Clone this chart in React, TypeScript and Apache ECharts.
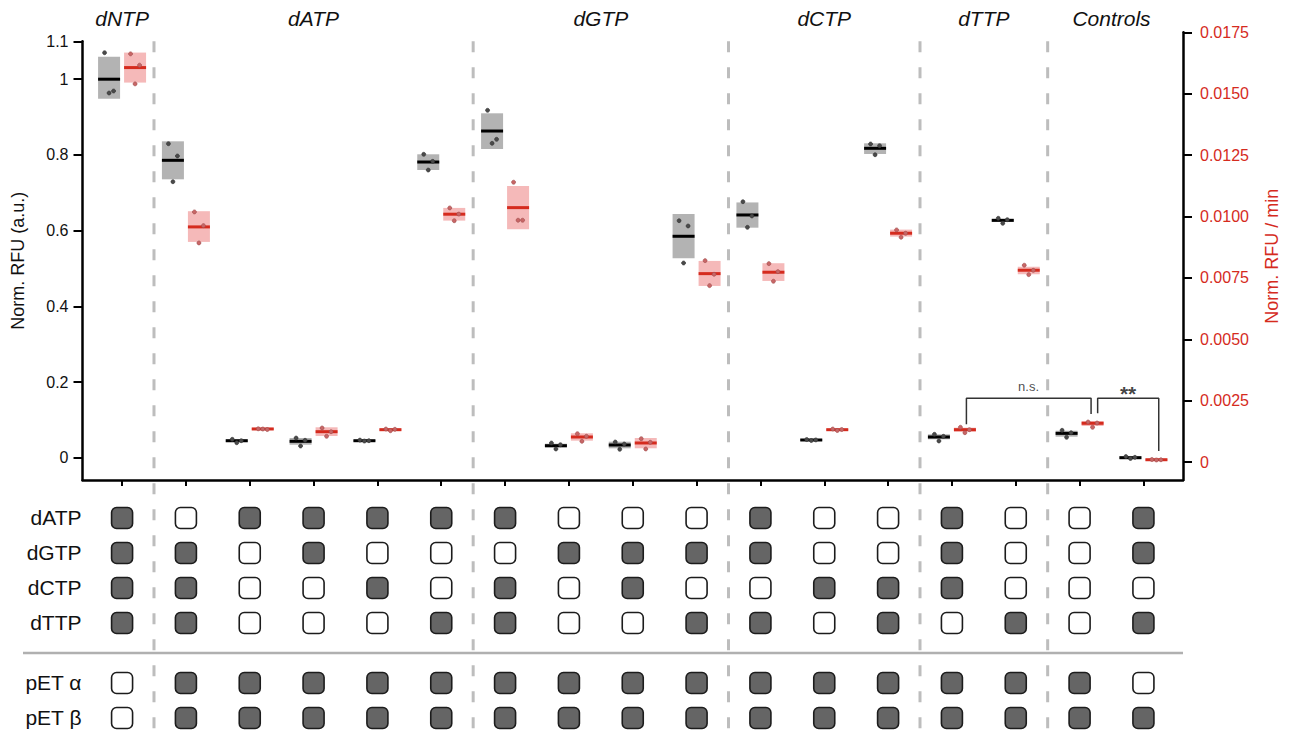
import React, { useEffect, useRef } from "react";
import * as echarts from "echarts";

// ---------- data ----------
// condition columns, numbered 1..17 from left to right
const columns = [1, 2, 3, 4, 5, 6, 7, 8, 9, 10, 11, 12, 13, 14, 15, 16, 17];

const groupNames = ["dNTP", "dATP", "dGTP", "dCTP", "dTTP", "Controls"];
const groupCenters = [1, 4, 8.5, 12, 14.5, 16.5];
const groupBoundaries = [1.5, 6.5, 10.5, 13.5, 15.5];

// Normalised RFU (left axis): box low / high / centre line, and three replicates
const blackLo = [0.9485, 0.7355, 0.041, 0.0343, 0.043, 0.7601, 0.8156, 0.027, 0.0248, 0.5268, 0.6077, 0.045, 0.8024, 0.0486, 0.623, 0.0555, -0.003];
const blackHi = [1.0594, 0.8359, 0.048, 0.052, 0.047, 0.8016, 0.9099, 0.037, 0.0423, 0.6438, 0.6744, 0.0485, 0.8306, 0.0618, 0.631, 0.0713, 0.004];
const blackMid = [1.0, 0.7857, 0.0449, 0.0433, 0.0449, 0.7812, 0.8631, 0.0317, 0.0336, 0.585, 0.6413, 0.0468, 0.8174, 0.0547, 0.6271, 0.0643, 0.0];
const blackRep1 = [1.07, 0.8296, 0.0486, 0.052, 0.0465, 0.8016, 0.9178, 0.0388, 0.0415, 0.6262, 0.6764, 0.048, 0.8288, 0.0618, 0.6325, 0.0724, 0.003];
const blackRep2 = [0.9635, 0.7292, 0.0396, 0.0309, 0.044, 0.76, 0.8306, 0.023, 0.0222, 0.5144, 0.6087, 0.0455, 0.8005, 0.0441, 0.6193, 0.0539, -0.002];
const blackRep3 = [0.9688, 0.7971, 0.045, 0.046, 0.045, 0.783, 0.8412, 0.0343, 0.0362, 0.6122, 0.6386, 0.047, 0.8243, 0.0565, 0.6289, 0.066, 0.001];

// Normalised RFU / min (right axis)
const redLo = [0.015453, 0.008967, 0.00131, 0.001067, 0.00128, 0.009834, 0.009484, 0.000876, 0.000566, 0.007175, 0.007378, 0.00129, 0.009183, 0.001242, 0.007651, 0.001474, 0.00006];
const redHi = [0.016675, 0.010217, 0.0014, 0.001421, 0.00137, 0.010351, 0.011247, 0.001177, 0.000985, 0.008193, 0.0081, 0.00136, 0.009468, 0.001405, 0.007961, 0.001678, 0.00014];
const redMid = [0.016064, 0.009578, 0.001352, 0.001242, 0.001323, 0.010095, 0.010363, 0.001026, 0.000782, 0.007676, 0.007733, 0.001323, 0.009321, 0.001323, 0.007814, 0.001584, 0.0001];
const redRep1 = [0.016622, 0.010188, 0.00136, 0.001393, 0.00135, 0.01035, 0.011398, 0.00116, 0.000957, 0.008205, 0.008083, 0.00135, 0.009455, 0.001421, 0.008018, 0.001637, 0.00011];
const redRep2 = [0.0154, 0.008926, 0.00135, 0.001055, 0.00128, 0.00983, 0.00985, 0.000851, 0.000538, 0.007187, 0.007366, 0.00129, 0.009158, 0.001201, 0.007635, 0.001421, 0.00009];
const redRep3 = [0.016162, 0.00963, 0.00133, 0.001242, 0.00134, 0.0101, 0.00985, 0.001055, 0.00081, 0.00765, 0.007757, 0.00133, 0.00932, 0.001323, 0.00781, 0.001596, 0.0001];

const leftTicks = [0, 0.2, 0.4, 0.6, 0.8, 1, 1.1];
const rightTicks = [0, 0.0025, 0.005, 0.0075, 0.01, 0.0125, 0.015, 0.0175];

const rowNames = ["dATP", "dGTP", "dCTP", "dTTP", "pET α", "pET β"];
const rowDATP = [1, 0, 1, 1, 1, 1, 1, 0, 0, 0, 1, 0, 0, 1, 0, 0, 1];
const rowDGTP = [1, 1, 0, 1, 0, 0, 0, 1, 1, 1, 1, 0, 0, 1, 0, 0, 1];
const rowDCTP = [1, 1, 0, 0, 1, 0, 1, 0, 1, 0, 0, 1, 1, 1, 0, 0, 0];
const rowDTTP = [1, 1, 0, 0, 0, 1, 1, 0, 0, 1, 1, 0, 1, 0, 1, 0, 1];
const rowPETa = [0, 1, 1, 1, 1, 1, 1, 1, 1, 1, 1, 1, 1, 1, 1, 1, 0];
const rowPETb = [0, 1, 1, 1, 1, 1, 1, 1, 1, 1, 1, 1, 1, 1, 1, 1, 1];
const rowStates = [rowDATP, rowDGTP, rowDCTP, rowDTTP, rowPETa, rowPETb];

// significance brackets (x in column units, y on right axis)
const bracketNS = [[14.227, 0.001543], [14.227, 0.002602], [16.18, 0.002602], [16.18, 0.001963]];
const bracketStar = [[16.283, 0.00199], [16.283, 0.002602], [17.24, 0.002602], [17.24, 0.000456]];
const labelNS = [15.2, 0.00308];
const labelStar = [16.76, 0.0028];

// ---------- layout ----------
const X_MIN = 0.38;
const X_MAX = 17.62;
const Y0_MIN = -0.0589;
const Y0_MAX = 1.1;
const Y1_MIN = -0.000725;
const Y1_MAX = 0.0175;
const ROW_POS = [0, 1, 2, 3, 4.714, 5.714];
const FONT = "'Liberation Sans', Arial, Helvetica, sans-serif";
const RED = "#d52b1e";
const GRID_LEFT = 82.5;
const GRID_RIGHT = 107;
const PLOT_BOTTOM = 480;
const LEFT_TOP = 41.35;

function boxRenderer(offset: number, fill: string, lineColor: string, dotFill: string, dotStroke: string) {
  return (params: any, api: any) => {
    const col = api.value(0);
    const lo = api.value(1);
    const hi = api.value(2);
    const mid = api.value(3);
    const pMid = api.coord([col, mid]);
    const cx = pMid[0] + offset;
    const yLo = api.coord([col, lo])[1];
    const yHi = api.coord([col, hi])[1];
    const reps = [api.value(4), api.value(5), api.value(6)];
    const dx = [-4.5, 0, 4.5];
    const children: any[] = [
      {
        type: "rect",
        shape: { x: cx - 11, y: yHi, width: 22, height: Math.max(yLo - yHi, 1.5) },
        style: { fill },
      },
      {
        type: "line",
        shape: { x1: cx - 11, y1: pMid[1], x2: cx + 11, y2: pMid[1] },
        style: { stroke: lineColor, lineWidth: 3 },
      },
    ];
    reps.forEach((v, i) => {
      const p = api.coord([col, v]);
      children.push({
        type: "circle",
        shape: { cx: cx + dx[i], cy: p[1], r: 2 },
        style: { fill: dotFill, stroke: dotStroke, lineWidth: 0.6 },
      });
    });
    return { type: "group", children };
  };
}

export default function App() {
  const ref = useRef<HTMLDivElement>(null);

  useEffect(() => {
    if (!ref.current) return;
    const chart = echarts.init(ref.current, null, { renderer: "svg" });

    const blackData = columns.map((c, i) => [c, blackLo[i], blackHi[i], blackMid[i], blackRep1[i], blackRep2[i], blackRep3[i]]);
    const redData = columns.map((c, i) => [c, redLo[i], redHi[i], redMid[i], redRep1[i], redRep2[i], redRep3[i]]);
    const symbolData: any[] = [];
    rowStates.forEach((row, r) => {
      row.forEach((s, c) => symbolData.push([columns[c], ROW_POS[r], s]));
    });

    const option: any = {
      animation: false,
      textStyle: { fontFamily: FONT },
      grid: [
        { left: GRID_LEFT, right: GRID_RIGHT, top: 32.3, height: PLOT_BOTTOM - 32.3 },
        { left: GRID_LEFT, right: GRID_RIGHT, top: 505, height: 230 },
        { left: GRID_LEFT, right: GRID_RIGHT, top: LEFT_TOP, height: PLOT_BOTTOM - LEFT_TOP },
      ],
      xAxis: [
        {
          gridIndex: 0,
          type: "value",
          position: "bottom",
          min: X_MIN,
          max: X_MAX,
          axisLine: { show: true, onZero: false, lineStyle: { color: "#000", width: 2.5 } },
          axisTick: { show: true, customValues: columns, length: 6, lineStyle: { color: "#000", width: 2 } },
          axisLabel: { show: false },
          splitLine: { show: false },
        },
        {
          gridIndex: 0,
          type: "value",
          position: "top",
          min: X_MIN,
          max: X_MAX,
          axisLine: { show: false, onZero: false },
          axisTick: { show: false },
          splitLine: { show: false },
          axisLabel: {
            show: true,
            customValues: groupCenters,
            formatter: (v: number) => groupNames[groupCenters.findIndex((g) => Math.abs(g - v) < 1e-6)] || "",
            fontStyle: "italic",
            fontSize: 21,
            color: "#111",
            margin: 3,
            fontFamily: FONT,
          },
        },
        { gridIndex: 1, type: "value", min: X_MIN, max: X_MAX, show: false, axisLine: { onZero: false } },
        { gridIndex: 2, type: "value", min: X_MIN, max: X_MAX, show: false, axisLine: { onZero: false } },
      ],
      yAxis: [
        {
          gridIndex: 2,
          type: "value",
          position: "left",
          min: Y0_MIN,
          max: Y0_MAX,
          axisLine: { show: true, onZero: false, lineStyle: { color: "#000", width: 2.5 } },
          axisTick: { show: true, customValues: leftTicks, length: 9, lineStyle: { color: "#000", width: 2 } },
          axisLabel: {
            show: true,
            customValues: leftTicks,
            formatter: (v: number) => String(parseFloat(v.toFixed(2))),
            fontSize: 16,
            color: "#111",
            margin: 14,
            fontFamily: FONT,
          },
          splitLine: { show: false },
          name: "Norm. RFU (a.u.)",
          nameLocation: "middle",
          nameRotate: 90,
          nameGap: 56,
          nameTextStyle: { fontSize: 18, color: "#111", fontFamily: FONT },
        },
        {
          gridIndex: 0,
          type: "value",
          position: "right",
          min: Y1_MIN,
          max: Y1_MAX,
          axisLine: { show: true, onZero: false, lineStyle: { color: "#000", width: 2.5 } },
          axisTick: { show: true, customValues: rightTicks, length: 9, lineStyle: { color: "#000", width: 2 } },
          axisLabel: {
            show: true,
            customValues: rightTicks,
            formatter: (v: number) => (Math.abs(v) < 1e-9 ? "0" : v.toFixed(4)),
            fontSize: 16,
            color: RED,
            margin: 17,
            fontFamily: FONT,
          },
          splitLine: { show: false },
          name: "Norm. RFU / min",
          nameLocation: "middle",
          nameRotate: 90,
          nameGap: 80,
          nameTextStyle: { fontSize: 18, color: RED, fontFamily: FONT },
        },
        {
          gridIndex: 1,
          type: "value",
          inverse: true,
          min: -0.371,
          max: 6.2,
          axisLine: { show: false, onZero: false },
          axisTick: { show: false },
          splitLine: { show: false },
          axisLabel: {
            show: true,
            customValues: ROW_POS,
            formatter: (v: number) => rowNames[ROW_POS.findIndex((p) => Math.abs(p - v) < 1e-6)] || "",
            fontSize: 21,
            color: "#111",
            margin: 1,
            fontFamily: FONT,
          },
        },
      ],
      series: [
        {
          type: "custom",
          name: "separators",
          xAxisIndex: 3,
          yAxisIndex: 0,
          silent: true,
          z: 1,
          data: groupBoundaries.map((b) => [b, 1.1]),
          renderItem: (params: any, api: any) => {
            const p = api.coord([api.value(0), api.value(1)]);
            return {
              type: "line",
              shape: { x1: p[0], y1: p[1], x2: p[0], y2: api.getHeight() },
              style: { stroke: "#bdbdbd", lineWidth: 3, lineDash: [11, 15] },
            };
          },
        },
        {
          type: "custom",
          name: "Norm. RFU",
          xAxisIndex: 3,
          yAxisIndex: 0,
          z: 3,
          data: blackData,
          encode: { x: 0, y: [1, 2, 3] },
          renderItem: boxRenderer(-13, "#b3b3b3", "#000", "#4a4a4a", "#333"),
        },
        {
          type: "custom",
          name: "Norm. RFU / min",
          xAxisIndex: 0,
          yAxisIndex: 1,
          z: 3,
          data: redData,
          encode: { x: 0, y: [1, 2, 3] },
          renderItem: boxRenderer(13, "#f5b9b9", RED, "#c86666", "#9e4a4a"),
        },
        {
          type: "line",
          name: "n.s.",
          xAxisIndex: 0,
          yAxisIndex: 1,
          silent: true,
          symbol: "none",
          data: bracketNS,
          lineStyle: { color: "#333", width: 1.5 },
          z: 4,
        },
        {
          type: "line",
          name: "**",
          xAxisIndex: 0,
          yAxisIndex: 1,
          silent: true,
          symbol: "none",
          data: bracketStar,
          lineStyle: { color: "#333", width: 1.5 },
          z: 4,
        },
        {
          type: "scatter",
          xAxisIndex: 0,
          yAxisIndex: 1,
          silent: true,
          symbolSize: 1,
          itemStyle: { color: "rgba(0,0,0,0)" },
          data: [
            { value: labelNS, label: { show: true, position: "inside", formatter: "n.s.", fontSize: 13, color: "#222", fontFamily: FONT } },
            { value: labelStar, label: { show: true, position: "inside", formatter: "**", fontSize: 21, fontWeight: "bold", color: "#111", fontFamily: FONT } },
          ],
          z: 6,
        },
        {
          type: "custom",
          name: "conditions",
          xAxisIndex: 2,
          yAxisIndex: 2,
          silent: true,
          z: 3,
          data: symbolData,
          renderItem: (params: any, api: any) => {
            const p = api.coord([api.value(0), api.value(1)]);
            const on = api.value(2) === 1;
            return {
              type: "rect",
              shape: { x: p[0] - 10.5, y: p[1] - 10.5, width: 21, height: 21, r: 5 },
              style: { fill: on ? "#656565" : "#ffffff", stroke: "#1c1c1c", lineWidth: 1.6 },
            };
          },
        },
      ],
    };

    chart.setOption(option);

    // grey rule between the dNTP rows and the plasmid rows
    const xRight = chart.convertToPixel({ xAxisIndex: 2 }, X_MAX) as number;
    const sepY =
      ((chart.convertToPixel({ yAxisIndex: 2 }, ROW_POS[3]) as number) +
        (chart.convertToPixel({ yAxisIndex: 2 }, ROW_POS[4]) as number)) / 2;
    chart.setOption({
      graphic: [
        {
          type: "line",
          shape: { x1: 23, y1: sepY, x2: xRight, y2: sepY },
          style: { stroke: "#b0b0b0", lineWidth: 2.5 },
          z: 0,
        },
      ],
    });

    return () => chart.dispose();
  }, []);

  return (
    <div
      ref={ref}
      style={{ position: "absolute", left: 0, top: 0, width: 1290, height: 735, background: "#fff" }}
    />
  );
}
